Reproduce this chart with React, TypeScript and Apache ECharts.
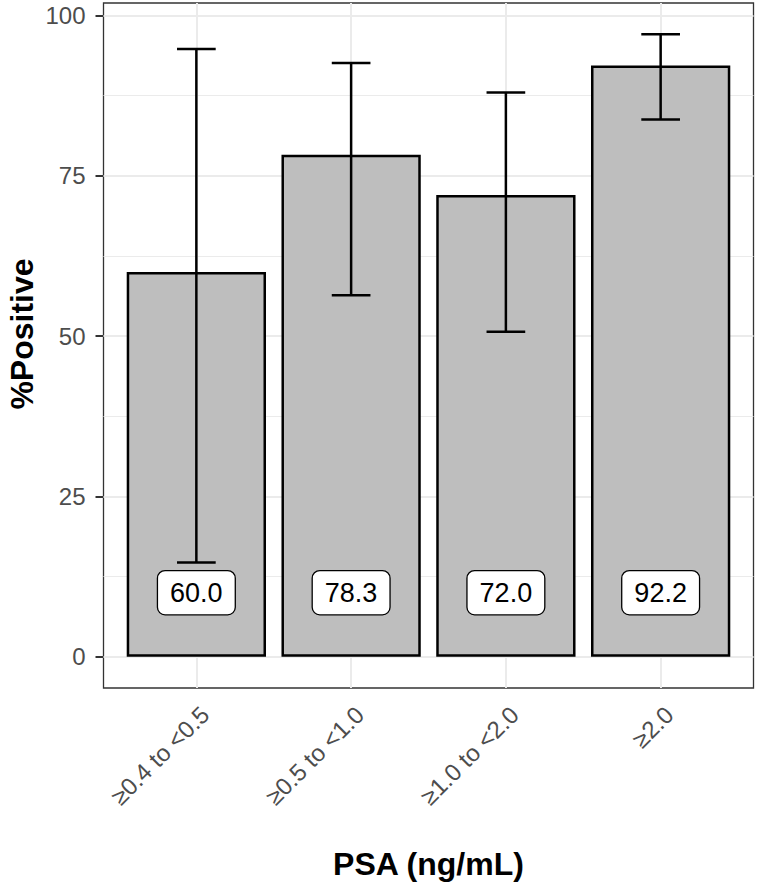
import React, { useEffect, useRef } from "react";
import * as echarts from "echarts";

// ---- data ----
const categories = ["≥0.4 to <0.5", "≥0.5 to <1.0", "≥1.0 to <2.0", "≥2.0"];
const percentPositive = [60.0, 78.3, 72.0, 92.2];
const ciLower = [14.7, 56.4, 50.7, 83.8];
const ciUpper = [94.8, 92.6, 88.0, 97.1];
const labelY = 10;
const yTicks = [0, 25, 50, 75, 100];
const yMinorGrid = [12.5, 37.5, 62.5, 87.5];
const xGridPositions = [1, 2, 3, 4];
const xTitle = "PSA (ng/mL)";
const yTitle = "%Positive";

const FONT = "'Liberation Sans', Arial, Helvetica, sans-serif";

export default function App() {
  const ref = useRef<HTMLDivElement>(null);

  useEffect(() => {
    document.body.style.margin = "0";
    if (!ref.current) return;
    const chart = echarts.init(ref.current, null, { renderer: "svg" });

    // panel geometry
    const panelLeft = 103.5;
    const panelRight = 753.5;
    const panelTop = 3;
    const panelBottom = 688;
    const n = categories.length;
    const xMin = 0.4;
    const xMax = n + 0.6;
    const band = (panelRight - panelLeft) / (xMax - xMin);

    const dataMax = Math.max(...ciUpper);
    const yMin = -0.05 * dataMax;
    const yMax = dataMax + 0.05 * dataMax;
    const yScale = (panelBottom - panelTop) / (yMax - yMin);
    const y0px = panelBottom + yMin * yScale;
    const y100px = y0px - 100 * yScale;

    const innerLeft = panelLeft + (1 - xMin - 0.5) * band;
    const innerRight = panelRight - (xMax - n - 0.5) * band;

    const majorLine = { color: "#ebebeb", width: 2, type: "solid" };
    const minorLine = { color: "#ebebeb", width: 1, type: "solid" };

    const markData: any[] = [];
    yTicks.forEach((v) => markData.push({ yAxis: v, lineStyle: majorLine }));
    yMinorGrid.forEach((v) => markData.push({ yAxis: v, lineStyle: minorLine }));
    xGridPositions.forEach((v) => markData.push({ xAxis: v, lineStyle: majorLine }));

    const option: any = {
      animation: false,
      backgroundColor: "#ffffff",
      textStyle: { fontFamily: FONT },
      grid: [
        {
          left: panelLeft,
          width: panelRight - panelLeft,
          top: panelTop,
          height: panelBottom - panelTop,
          show: true,
          backgroundColor: "#ffffff",
          borderColor: "#333333",
          borderWidth: 1.3,
          containLabel: false,
        },
        {
          left: innerLeft,
          width: innerRight - innerLeft,
          top: y100px,
          height: y0px - y100px,
          containLabel: false,
        },
      ],
      xAxis: [
        { gridIndex: 0, type: "value", min: xMin, max: xMax, show: false },
        {
          gridIndex: 1,
          type: "category",
          data: categories,
          offset: panelBottom - y0px,
          axisLine: { show: false },
          axisTick: {
            show: true,
            alignWithLabel: true,
            length: 8,
            lineStyle: { color: "#333333", width: 2 },
          },
          axisLabel: {
            rotate: 45,
            align: "right",
            verticalAlign: "top",
            margin: 14,
            fontSize: 24,
            color: "#4d4d4d",
            fontFamily: FONT,
            interval: 0,
          },
          splitLine: { show: false },
        },
      ],
      yAxis: [
        { gridIndex: 0, type: "value", min: yMin, max: yMax, show: false },
        {
          gridIndex: 1,
          type: "value",
          min: 0,
          max: 100,
          interval: 25,
          offset: innerLeft - panelLeft,
          axisLine: { show: false },
          axisTick: {
            show: true,
            length: 8,
            lineStyle: { color: "#333333", width: 2 },
          },
          axisLabel: {
            margin: 18,
            fontSize: 24,
            color: "#4d4d4d",
            fontFamily: FONT,
          },
          splitLine: { show: false },
        },
      ],
      series: [
        {
          type: "line",
          xAxisIndex: 0,
          yAxisIndex: 0,
          data: [],
          silent: true,
          z: 1,
          markLine: {
            silent: true,
            z: 1,
            symbol: ["none", "none"],
            label: { show: false },
            emphasis: { disabled: true },
            data: markData,
            animation: false,
          },
        },
        {
          type: "bar",
          xAxisIndex: 1,
          yAxisIndex: 1,
          data: percentPositive,
          barWidth: "90%",
          z: 3,
          itemStyle: {
            color: "#bebebe",
            borderColor: "#000000",
            borderWidth: 2.5,
          },
        },
        {
          type: "custom",
          xAxisIndex: 1,
          yAxisIndex: 1,
          z: 4,
          data: categories.map((c, i) => [i, ciLower[i], ciUpper[i]]),
          encode: { x: 0, y: [1, 2] },
          renderItem: (params: any, api: any) => {
            const x = api.value(0);
            const lo = api.coord([x, api.value(1)]);
            const hi = api.coord([x, api.value(2)]);
            const bw = api.size([1, 0])[0];
            const half = (bw * 0.25) / 2;
            const st = { stroke: "#000000", lineWidth: 2.5 };
            return {
              type: "group",
              children: [
                { type: "line", shape: { x1: lo[0], y1: lo[1], x2: hi[0], y2: hi[1] }, style: st },
                { type: "line", shape: { x1: lo[0] - half, y1: lo[1], x2: lo[0] + half, y2: lo[1] }, style: st },
                { type: "line", shape: { x1: hi[0] - half, y1: hi[1], x2: hi[0] + half, y2: hi[1] }, style: st },
              ],
            };
          },
        },
        {
          type: "custom",
          xAxisIndex: 1,
          yAxisIndex: 1,
          z: 5,
          data: categories.map((c, i) => [i, labelY, percentPositive[i]]),
          encode: { x: 0, y: 1 },
          renderItem: (params: any, api: any) => {
            const p = api.coord([api.value(0), api.value(1)]);
            return {
              type: "text",
              x: p[0],
              y: p[1],
              style: {
                text: Number(api.value(2)).toFixed(1),
                fontSize: 27,
                fontFamily: FONT,
                fill: "#000000",
                align: "center",
                verticalAlign: "middle",
                backgroundColor: "#ffffff",
                borderColor: "#000000",
                borderWidth: 1.3,
                borderRadius: 7,
                padding: [8, 12, 8, 12],
              },
            };
          },
        },
      ],
      graphic: [
        {
          type: "text",
          x: 22,
          y: 334,
          rotation: Math.PI / 2,
          style: {
            text: yTitle,
            fontSize: 32,
            fontWeight: "bold",
            fontFamily: FONT,
            fill: "#000000",
            align: "center",
            verticalAlign: "middle",
          },
        },
        {
          type: "text",
          x: (panelLeft + panelRight) / 2,
          y: 864,
          style: {
            text: xTitle,
            fontSize: 32,
            fontWeight: "bold",
            fontFamily: FONT,
            fill: "#000000",
            align: "center",
            verticalAlign: "middle",
          },
        },
      ],
    };

    chart.setOption(option);
    return () => chart.dispose();
  }, []);

  return <div ref={ref} style={{ width: 757, height: 886 }} />;
}
